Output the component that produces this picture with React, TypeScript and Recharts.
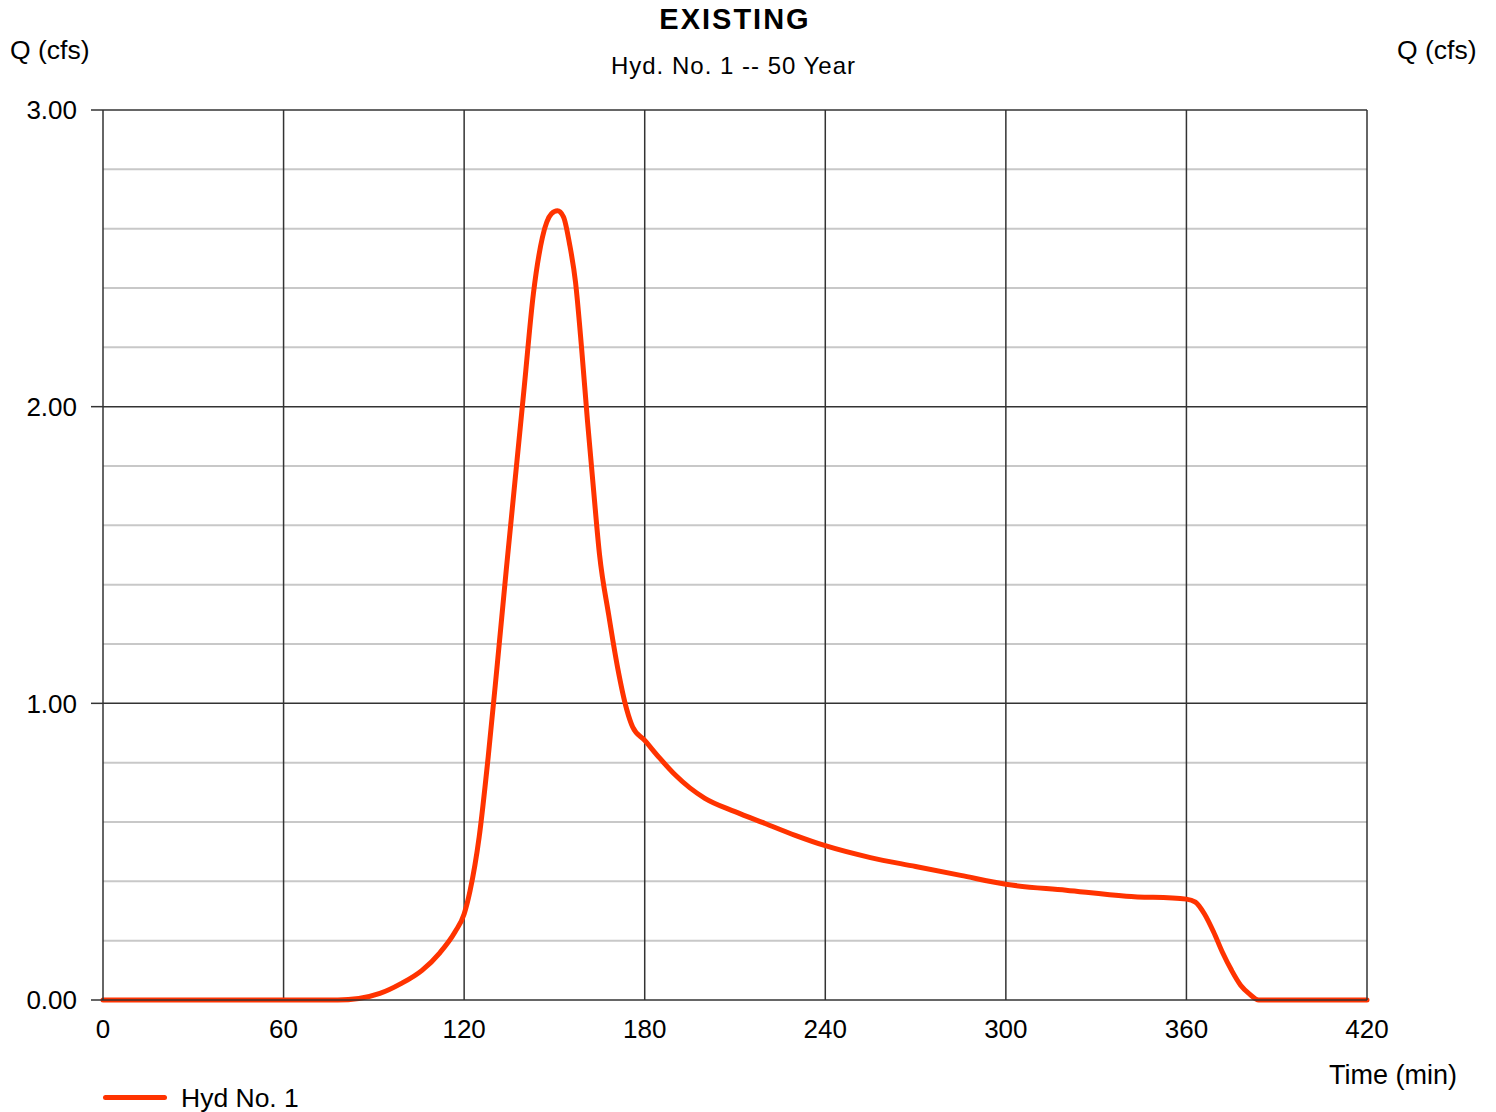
import { LineChart, Line, XAxis, YAxis, ReferenceLine } from 'recharts'

// hydrograph ordinates
const times = [0, 78, 85, 92, 99, 106, 112, 117, 120, 122, 125, 128, 131, 134, 137, 140, 143, 146, 149, 151, 153, 155, 157, 159, 161, 163, 165, 168, 171, 174, 176, 180, 185, 190, 195, 200, 210, 220, 230, 240, 255, 270, 285, 300, 320, 340, 360, 363, 366, 369, 372, 375, 378, 381, 384, 420]
const flows = [0, 0, 0.005, 0.022, 0.055, 0.1, 0.16, 0.23, 0.29, 0.37, 0.55, 0.82, 1.13, 1.45, 1.76, 2.07, 2.38, 2.57, 2.65, 2.66, 2.64, 2.55, 2.42, 2.2, 1.95, 1.72, 1.5, 1.3, 1.12, 0.98, 0.92, 0.875, 0.815, 0.76, 0.715, 0.68, 0.635, 0.595, 0.555, 0.52, 0.48, 0.45, 0.42, 0.39, 0.37, 0.35, 0.34, 0.33, 0.29, 0.23, 0.16, 0.1, 0.05, 0.02, 0, 0]

const xTicks = [0, 60, 120, 180, 240, 300, 360, 420]
const yTicks = [0, 1, 2, 3]
const minorY = [0.2, 0.4, 0.6, 0.8, 1.2, 1.4, 1.6, 1.8, 2.2, 2.4, 2.6, 2.8]
const majorY = [1, 2, 3]
const gridX = [60, 120, 180, 240, 300, 360]

const data = times.map((t, i) => ({ t, q: flows[i] }))

const FONT = '"Liberation Sans", Arial, sans-serif'
const RED = '#ff3300'
const DARK = '#333333'

const txt = (left: number, top: number, size: number, extra: React.CSSProperties = {}) => ({
  position: 'absolute' as const, left, top, fontSize: size, lineHeight: 1, whiteSpace: 'nowrap' as const, ...extra,
})

export default function App() {
  const tick = { fontSize: 26, fill: '#000' }
  return (
    <div style={{ position: 'absolute', left: 0, top: 0, width: 1496, height: 1112, background: '#fff', fontFamily: FONT, color: '#000' }}>
      <LineChart width={1496} height={1112} data={data} margin={{ top: 110, right: 69, bottom: 82, left: 43 }}>
        <XAxis
          dataKey="t" type="number" domain={[0, 420]} ticks={xTicks}
          tickLine={false} tickSize={0} tickMargin={20} height={30}
          axisLine={{ stroke: DARK, strokeWidth: 1.5 }} tick={tick} interval={0}
        />
        <YAxis
          yAxisId="left" domain={[0, 3]} ticks={yTicks} width={60}
          tickSize={12} tickMargin={14} tickFormatter={v => Number(v).toFixed(2)}
          axisLine={{ stroke: DARK, strokeWidth: 1.5 }} tickLine={{ stroke: DARK, strokeWidth: 1.5 }} tick={tick}
        />
        <YAxis
          yAxisId="right" orientation="right" domain={[0, 3]} ticks={yTicks} width={60}
          tickSize={12} tickMargin={16} tickFormatter={v => Number(v).toFixed(2)}
          axisLine={{ stroke: DARK, strokeWidth: 1.5 }} tickLine={{ stroke: DARK, strokeWidth: 1.5 }} tick={tick}
        />
        {minorY.map(v => (
          <ReferenceLine key={'mn' + v} yAxisId="left" y={v} stroke="#c8c8c8" strokeWidth={2} />
        ))}
        {majorY.map(v => (
          <ReferenceLine key={'mj' + v} yAxisId="left" y={v} stroke={DARK} strokeWidth={1.5} />
        ))}
        {gridX.map(v => (
          <ReferenceLine key={'gx' + v} yAxisId="left" x={v} stroke={DARK} strokeWidth={1.5} />
        ))}
        <Line
          yAxisId="left" type="monotone" dataKey="q" stroke={RED} strokeWidth={5}
          dot={false} isAnimationActive={false} strokeLinecap="round"
        />
      </LineChart>

      <div style={txt(0, 5, 29, { width: 1470, textAlign: 'center', fontWeight: 'bold', letterSpacing: 2 })}>EXISTING</div>
      <div style={txt(0, 54, 24, { width: 1467, textAlign: 'center', letterSpacing: 1 })}>Hyd. No. 1 -- 50 Year</div>
      <div style={txt(10, 37, 26.5)}>Q (cfs)</div>
      <div style={txt(1397, 37, 26.5)}>Q (cfs)</div>
      <div style={txt(1329, 1062, 27)}>Time (min)</div>

      <div style={{ position: 'absolute', left: 103, top: 1095, width: 64, height: 5, borderRadius: 3, background: RED }} />
      <div style={txt(181, 1085, 26.5)}>Hyd No. 1</div>
    </div>
  )
}
